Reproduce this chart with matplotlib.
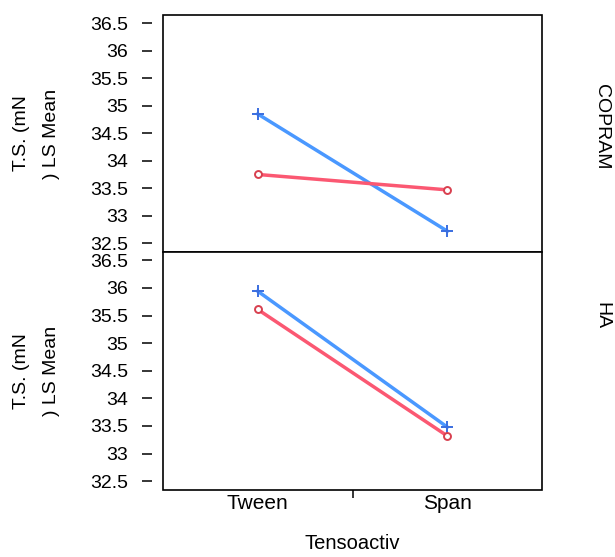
import matplotlib
matplotlib.use("Agg")
import matplotlib.pyplot as plt

plt.rcParams['font.family'] = ['Liberation Sans', 'DejaVu Sans']

groups = ["Tween", "Span"]
panels = ["COPRAM", "HA"]
blue_vals = {"COPRAM": [34.85, 32.72], "HA": [35.94, 33.48]}
red_vals = {"COPRAM": [33.75, 33.47], "HA": [35.61, 33.32]}
yticks = [32.5, 33, 33.5, 34, 34.5, 35, 35.5, 36, 36.5]

blue = '#4a98ff'
red = '#fb5872'

fig = plt.figure(figsize=(6.15, 5.57), dpi=100)
left, right = 163 / 615, 542 / 615
tops = [1 - 15 / 557, 1 - 252 / 557]
bots = [1 - 252 / 557, 1 - 490 / 557]
label_y = [1 - 127 / 557, 1 - 316 / 557]

x = [1, 2]
for i, name in enumerate(panels):
    ax = fig.add_axes([left, bots[i], right - left, tops[i] - bots[i]])
    ax.plot(x, blue_vals[name], '-', color=blue, linewidth=2.5, zorder=2)
    ax.plot(x, blue_vals[name], '+', color='#3a6ee0', markersize=8, markeredgewidth=1.4, zorder=3)
    ax.plot(x, red_vals[name], '-', color=red, linewidth=2.5, zorder=2)
    ax.plot(x, red_vals[name], 'o', color='#d8404f', markerfacecolor='white',
            markersize=5, markeredgewidth=1.4, zorder=3)
    ax.set_xlim(0.5, 2.5)
    ax.set_ylim(32.34, 36.65)

    # frame drawn by the axes patch, spines kept for tick placement
    for s in ax.spines.values():
        s.set_visible(False)
    ax.patch.set_edgecolor('black')
    ax.patch.set_linewidth(1.2)
    ax.spines['left'].set_position(('outward', 8))

    ax.set_yticks(yticks)
    ax.set_yticklabels([f"{v:g}" for v in yticks])
    ax.tick_params(axis='y', length=7, width=1.1, pad=10, labelsize=14)

    if i == 0:
        ax.set_xticks([])
    else:
        ax.set_xticks([1.5])
        ax.set_xticklabels([""])
        ax.set_xticks(x, minor=True)
        ax.set_xticklabels(groups, minor=True)
        ax.tick_params(axis='x', which='major', length=6, width=1.1)
        ax.tick_params(axis='x', which='minor', length=0, pad=3, labelsize=15)
        ax.set_xlabel("Tensoactiv", fontsize=14.5, labelpad=15)

    yc = (tops[i] + bots[i]) / 2
    fig.text(22 / 615, yc, "T.S. (mN", rotation=90, ha='center', va='center', fontsize=14)
    fig.text(52 / 615, yc, ") LS Mean", rotation=90, ha='center', va='center', fontsize=14)
    fig.text(602 / 615, label_y[i], name, rotation=-90, ha='center', va='center', fontsize=14)

fig.savefig("out.png", dpi=100)
